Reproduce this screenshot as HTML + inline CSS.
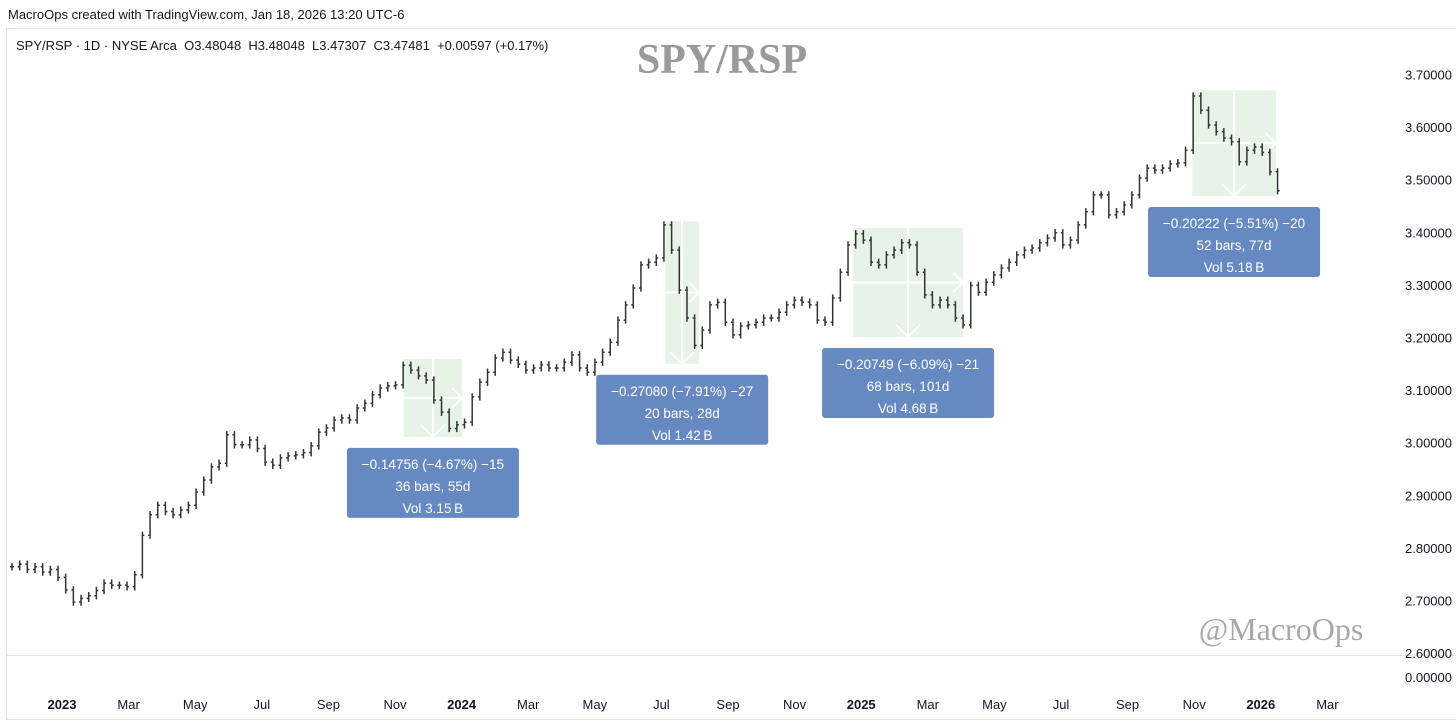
<!DOCTYPE html>
<html><head><meta charset="utf-8">
<style>
html,body{margin:0;padding:0;background:#fff;}
body{width:1456px;height:725px;overflow:hidden;position:relative;font-family:"Liberation Sans",sans-serif;}
svg{position:absolute;left:0;top:0;}
</style></head>
<body>
<svg id="chart" width="1456" height="725" viewBox="0 0 1456 725">
  <text x="8" y="19" font-size="13" fill="#131722">MacroOps created with TradingView.com, Jan 18, 2026 13:20 UTC-6</text>
  <line x1="6" y1="28.5" x2="1456" y2="28.5" stroke="#e0e3eb"/>
  <line x1="6.5" y1="28" x2="6.5" y2="720" stroke="#e0e3eb"/>
  <line x1="6" y1="655.5" x2="1456" y2="655.5" stroke="#e0e3eb"/>
  <line x1="6" y1="719.5" x2="1456" y2="719.5" stroke="#e0e3eb"/>
  <text x="16" y="50" font-size="13" fill="#131722" style="white-space:pre" xml:space="preserve">SPY/RSP · 1D · NYSE Arca  O3.48048  H3.48048  L3.47307  C3.47481  +0.00597 (+0.17%)</text>
  <text x="722" y="73" font-size="42" font-weight="bold" fill="#9a9a9a" text-anchor="middle" font-family="Liberation Serif, serif">SPY/RSP</text>
  <text x="1281" y="640" font-size="32" fill="#a8a8a8" text-anchor="middle" font-family="Liberation Serif, serif">@MacroOps</text>
  <g id="boxes"></g>
  <g id="bars"></g>
  <g id="yaxis"></g>
  <g id="xaxis"></g>
  <g id="labels"></g>
  <text x="1452" y="682" font-size="13" fill="#131722" text-anchor="end">0.00000</text>
</svg>
<script>
const NS='http://www.w3.org/2000/svg';
// Weekly closes, starting mid-Nov 2022
const closes=[2.765,2.77,2.76,2.765,2.755,2.76,2.745,2.721,2.698,2.705,2.71,2.72,2.734,2.73,2.73,2.727,2.75,2.825,2.864,2.882,2.87,2.864,2.873,2.882,2.907,2.93,2.955,2.962,3.016,2.997,2.997,3.006,2.99,2.964,2.958,2.972,2.976,2.978,2.982,2.995,3.021,3.029,3.044,3.048,3.044,3.067,3.076,3.092,3.105,3.109,3.111,3.148,3.139,3.128,3.12,3.082,3.059,3.028,3.035,3.04,3.088,3.116,3.135,3.162,3.173,3.158,3.15,3.139,3.143,3.149,3.143,3.143,3.154,3.168,3.143,3.135,3.154,3.173,3.192,3.234,3.263,3.295,3.339,3.344,3.352,3.415,3.367,3.291,3.238,3.186,3.215,3.263,3.268,3.23,3.206,3.223,3.225,3.23,3.238,3.238,3.249,3.263,3.272,3.268,3.263,3.234,3.23,3.276,3.325,3.377,3.398,3.386,3.344,3.339,3.358,3.367,3.381,3.377,3.325,3.282,3.263,3.272,3.263,3.238,3.225,3.30,3.287,3.306,3.32,3.333,3.344,3.358,3.367,3.371,3.381,3.39,3.40,3.377,3.386,3.415,3.44,3.472,3.472,3.434,3.44,3.453,3.472,3.504,3.523,3.519,3.523,3.531,3.533,3.557,3.66,3.633,3.605,3.592,3.58,3.573,3.535,3.557,3.563,3.553,3.516,3.48];
const priceTicks=[3.7,3.6,3.5,3.4,3.3,3.2,3.1,3.0,2.9,2.8,2.7,2.6];
const timeLabels=['2023','Mar','May','Jul','Sep','Nov','2024','Mar','May','Jul','Sep','Nov','2025','Mar','May','Jul','Sep','Nov','2026','Mar'];
const timeMonths=[0,2,4,6,8,10,12,14,16,18,20,22,24,26,28,30,32,34,36,38];
// measurement ranges (week index, price)
const measureStart=[51.6,85.7,110.2,154.4];
const measureEnd=[59.2,90.1,124.5,165.3];
const measureHigh=[3.16,3.422,3.409,3.671];
const measureLow=[3.012,3.151,3.202,3.47];
const measureText=[['\u22120.14756 (\u22124.67%) \u221215','36 bars, 55d','Vol 3.15\u2009B'],['\u22120.27080 (\u22127.91%) \u221227','20 bars, 28d','Vol 1.42\u2009B'],['\u22120.20749 (\u22126.09%) \u221221','68 bars, 101d','Vol 4.68\u2009B'],['\u22120.20222 (\u22125.51%) \u221220','52 bars, 77d','Vol 5.18\u2009B']];

const yOf=p=>75+(3.7-p)*526;
const xOfWeek=i=>8+i*7.67;
const xOfMonth=m=>62+m*33.3;
function mk(tag,attrs,parent){const e=document.createElementNS(NS,tag);for(const k in attrs)e.setAttribute(k,attrs[k]);parent.appendChild(e);return e;}

const yg=document.getElementById('yaxis');
priceTicks.forEach(p=>{const t=mk('text',{x:1452,y:yOf(p)+4.5,'font-size':13,fill:'#131722','text-anchor':'end'},yg);


t.textContent=p.toFixed(5);});

const xg=document.getElementById('xaxis');
timeLabels.forEach((l,i)=>{const bold=/^\d{4}$/.test(l);const t=mk('text',{x:xOfMonth(timeMonths[i]),y:709,'font-size':13,fill:'#131722','text-anchor':'middle','font-weight':bold?'bold':'normal'},xg);


t.textContent=l;});

const bg=document.getElementById('boxes');
const lg=document.getElementById('labels');
measureStart.forEach((s,k)=>{
  const x1=xOfWeek(s),x2=xOfWeek(measureEnd[k]),y1=yOf(measureHigh[k]),y2=yOf(measureLow[k]);
  const r=mk('rect',{x:x1,y:y1,width:x2-x1,height:y2-y1,fill:'#e6f3e6'},bg);
  
  
  const my=(y1+y2)/2,mx=(x1+x2)/2;
  mk('path',{d:`M${x1} ${my}H${x2}M${x2-10} ${my-10}L${x2} ${my}L${x2-10} ${my+10}M${mx} ${y1}V${y2}M${mx-12} ${y2-12}L${mx} ${y2}L${mx+12} ${y2-12}`,stroke:'#fff','stroke-width':2,fill:'none'},bg);
  const lx=mx-86,ly=y2+11;
  const lab=mk('rect',{x:lx,y:ly,width:172,height:70,rx:3,fill:'#6789c2'},lg);
  
  
  measureText[k].forEach((s2,j)=>{const t=mk('text',{x:mx,y:ly+21+j*22,'font-size':13.5,fill:'#fff','text-anchor':'middle'},lg);
  
  
  t.textContent=s2;});
});

const barg=document.getElementById('bars');
closes.forEach((c,i)=>{
  const prev=i?closes[i-1]:c;
  const hi=Math.max(prev,c)+0.007,lo=Math.min(prev,c)-0.007;
  const x=xOfWeek(i)+4;
  const g=mk('path',{d:`M${x} ${yOf(hi)}V${yOf(lo)}M${x-2} ${yOf(prev)}H${x}M${x} ${yOf(c)}H${x+2}`,stroke:'#333','stroke-width':1.5,fill:'none'},barg);
  
  
});
</script>
</body></html>
